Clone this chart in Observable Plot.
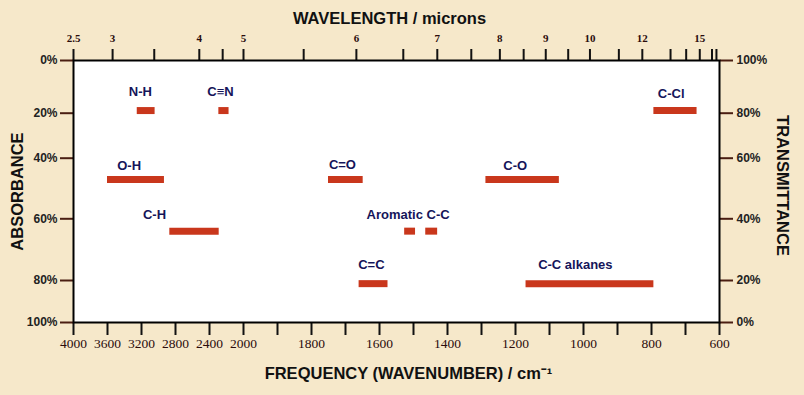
<!DOCTYPE html>
<html>
<head>
<meta charset="utf-8">
<script src="https://cdn.jsdelivr.net/npm/d3@7"></script>
<script src="https://cdn.jsdelivr.net/npm/@observablehq/plot@0.6"></script>
<style>
  html, body { margin: 0; padding: 0; background: #f6e8ca; }
  #chart svg { display: block; }
</style>
</head>
<body>
<div id="chart"></div>
<script>
// Bottom axis: wavenumber ticks (cm-1)
const freqTicks = [4000, 3600, 3200, 2800, 2400, 2000, 1900, 1800, 1700, 1600, 1500, 1400, 1300, 1200, 1100, 1000, 900, 800, 700, 600];
const freqLabels = [4000, 3600, 3200, 2800, 2400, 2000, 1800, 1600, 1400, 1200, 1000, 800, 600];

// Top axis: wavelength ticks (positions as wavenumbers)
const micronTickWn = [4000, 3540, 3050, 2520, 2245, 2000, 1823, 1668, 1530, 1430, 1330, 1246, 1176, 1111, 1045, 981, 896, 827, 744, 698, 658, 622, 609];
const micronLabelWn = [4000, 3540, 2520, 2000, 1668, 1430, 1246, 1111, 981, 827, 658];
const micronLabels = ["2.5", "3", "4", "5", "6", "7", "8", "9", "10", "12", "15"];

// Absorbance ticks (%)
const absTicks = [0, 20, 40, 60, 80, 100];

// Absorption bands
const bandGroup = ["N-H", "C≡N", "C-Cl", "O-H", "C=O", "C-O", "C-H", "Aromatic C-C", "Aromatic C-C", "C=C", "C-C alkanes"];
const bandFrom  = [3250, 2290, 793, 3600, 1750, 1287, 2867, 1526, 1464, 1660, 1169];
const bandTo    = [3040, 2170, 666, 2930, 1648, 1071, 2286, 1494, 1429, 1575, 793];
const bandAbs   = [19, 19, 19, 47, 47, 47, 64, 64, 64, 81.5, 81.5];

// Band labels
const labelText = ["N-H", "C≡N", "C-Cl", "O-H", "C=O", "C-O", "C-H", "Aromatic C-C", "C=C", "C-C alkanes"];
const labelWn   = [3214, 2271, 742, 3345, 1709, 1201, 3047, 1516, 1624, 1024];
const labelAbs  = [11.9, 11.9, 12.6, 42.6, 42.3, 42.4, 58.7, 58.6, 74.9, 74.9];

const bands = bandGroup.map((g, i) => ({group: g, from: bandFrom[i], to: bandTo[i], abs: bandAbs[i]}));
const labels = labelText.map((t, i) => ({text: t, wn: labelWn[i], abs: labelAbs[i]}));

// The chart's axes are piecewise: 4000–2000 cm-1 compressed, 2000–600 expanded,
// and the hand-drawn absorbance axis has uneven spacing.
const xWarp = d3.scaleLinear().domain([4000, 2000, 600]).range([0, 170, 646]);
const yWarp = d3.scaleLinear().domain([0, 20, 40, 60, 80, 100]).range([0, 52.7, 97.7, 158.3, 220, 262]);
const xBack = d => Math.round(xWarp.invert(d));
const yBack = d => Math.round(yWarp.invert(d));

const sans = "'Liberation Sans', Arial, sans-serif";
const serif = "'Liberation Serif', 'Times New Roman', serif";
const navy = "#15155a";
const barRed = "#c9371c";

const chart = Plot.plot({
  width: 804,
  height: 395,
  marginLeft: 73,
  marginRight: 85,
  marginTop: 60,
  marginBottom: 73,
  style: {background: "#f6e8ca", overflow: "visible"},
  x: {type: "linear", transform: xWarp, domain: [0, 646]},
  y: {type: "linear", transform: yWarp, domain: [0, 262], reverse: true},
  marks: [
    Plot.frame({fill: "white", stroke: "none"}),
    // bottom axis
    Plot.axisX({
      anchor: "bottom", ticks: freqTicks.map(xWarp),
      tickFormat: d => freqLabels.includes(xBack(d)) ? String(xBack(d)) : "",
      tickSize: 13, tickPadding: 3, stroke: "#111", strokeWidth: 2, strokeOpacity: 1,
      fill: "#2a0c0c", fontSize: 13.5, fontFamily: serif, label: null
    }),
    // top axis (wavelength)
    Plot.axisX({
      anchor: "top", ticks: micronTickWn.map(xWarp),
      tickFormat: d => { const k = micronLabelWn.indexOf(xBack(d)); return k >= 0 ? micronLabels[k] : ""; },
      tickSize: 12, tickPadding: 7, stroke: "#111", strokeWidth: 2, strokeOpacity: 1,
      fill: "#2a0c0c", fontSize: 11, fontWeight: "bold", fontFamily: serif, label: null
    }),
    // left axis (absorbance)
    Plot.axisY({
      anchor: "left", ticks: absTicks.map(yWarp), tickFormat: d => yBack(d) + "%",
      tickSize: 13, tickPadding: 3, stroke: "#4a1e12", strokeWidth: 2, strokeOpacity: 1,
      fill: "#222", fontSize: 12, fontWeight: "bold", fontFamily: sans, label: null
    }),
    // right axis (transmittance)
    Plot.axisY({
      anchor: "right", ticks: absTicks.map(yWarp), tickFormat: d => (100 - yBack(d)) + "%",
      tickSize: 13, tickPadding: 4, stroke: "#4a1e12", strokeWidth: 2, strokeOpacity: 1,
      fill: "#222", fontSize: 12, fontWeight: "bold", fontFamily: sans, label: null
    }),
    Plot.frame({stroke: "#000", strokeWidth: 2}),
    // bands
    Plot.ruleY(bands, {y: "abs", x1: "from", x2: "to", stroke: barRed, strokeWidth: 7}),
    // band labels
    Plot.text(labels, {
      x: "wn", y: "abs", text: "text", fill: navy, fontSize: 13, fontWeight: "bold",
      fontFamily: sans, textAnchor: "middle", lineAnchor: "middle"
    }),
    // axis titles
    Plot.text(["WAVELENGTH / microns"], {
      frameAnchor: "top", dx: -7, dy: -42, fontSize: 16.5, fontWeight: "bold",
      fontFamily: sans, fill: "#111", textAnchor: "middle", lineAnchor: "middle"
    }),
    Plot.text(["FREQUENCY (WAVENUMBER) / cm\u207B\u00B9"], {
      frameAnchor: "bottom", dx: 12, dy: 51, fontSize: 16.5, fontWeight: "bold",
      fontFamily: sans, fill: "#111", textAnchor: "middle", lineAnchor: "middle"
    }),
    Plot.text(["ABSORBANCE"], {
      frameAnchor: "left", dx: -55.5, dy: 0, rotate: -90, fontSize: 16.5, fontWeight: "bold",
      fontFamily: sans, fill: "#111", textAnchor: "middle", lineAnchor: "middle"
    }),
    Plot.text(["TRANSMITTANCE"], {
      frameAnchor: "right", dx: 63, dy: -6, rotate: 90, fontSize: 16.5, fontWeight: "bold",
      fontFamily: sans, fill: "#111", textAnchor: "middle", lineAnchor: "middle"
    })
  ]
});

document.getElementById("chart").appendChild(chart);
</script>
</body>
</html>
